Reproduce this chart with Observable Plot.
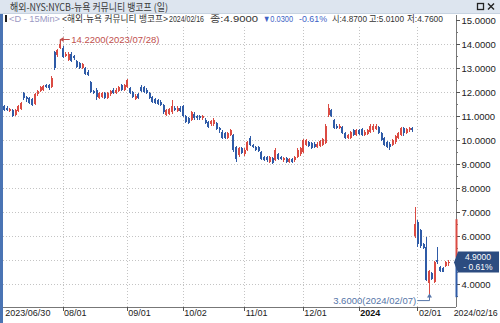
<!DOCTYPE html>
<html><head><meta charset="utf-8">
<script src="https://cdn.jsdelivr.net/npm/d3@7"></script>
<script src="https://cdn.jsdelivr.net/npm/@observablehq/plot@0.6"></script>
<style>
html,body{margin:0;padding:0;background:#fff;}
#chart{width:500px;height:323px;overflow:hidden;}
</style></head><body><div id="chart"></div>
<script>
// ---- data (daily candles, 2023/06/30 .. 2024/02/16) ----
const openP = [
 11.40,11.35,11.20,11.25,11.05,11.20,11.30,11.95,11.80,11.75,
 11.70,11.50,11.90,12.05,12.10,12.30,12.30,12.20,13.67,13.55,
 13.85,13.83,13.50,13.35,13.60,13.50,13.28,13.20,13.00,13.00,
 12.85,12.40,12.05,12.10,11.75,11.80,11.95,11.75,11.90,12.10,
 11.95,12.05,12.30,12.10,12.20,12.15,12.00,11.70,11.90,12.20,
 12.20,12.10,11.95,11.80,11.70,11.65,11.60,11.45,11.05,11.10,
 11.15,11.35,11.20,11.35,11.40,11.00,10.90,10.85,11.10,11.00,
 11.00,10.90,10.85,10.75,10.65,10.65,10.70,10.50,10.35,10.30,
 10.10,10.20,10.20,9.70,9.37,9.67,9.40,9.60,10.08,9.80,
 9.70,9.70,9.50,9.30,9.30,9.10,9.25,9.17,9.40,9.30,
 9.15,9.25,9.10,9.20,9.15,9.30,9.40,9.50,9.80,9.90,
 9.87,9.85,9.70,9.75,9.80,9.87,11.04,11.25,10.83,10.60,
 10.50,10.55,10.30,10.10,10.10,10.40,10.20,10.40,10.45,10.20,
 10.25,10.33,10.40,10.45,10.55,10.30,10.08,9.90,9.85,9.80,
 9.90,10.10,10.20,10.50,10.30,10.40,10.50,6.00,6.58,6.25,
 5.65,5.54,4.05,4.45,4.10,5.00,4.70,4.65,4.75,4.87];
const highP = [
 11.45,11.40,11.35,11.30,11.30,11.45,11.60,12.00,11.85,11.80,
 11.75,11.95,12.10,12.25,12.30,12.35,12.35,12.65,13.72,13.80,
 14.22,13.90,13.65,13.65,13.65,13.55,13.32,13.25,13.20,13.05,
 12.90,12.45,12.10,12.15,12.00,12.00,12.00,12.00,12.10,12.15,
 12.15,12.25,12.35,12.35,12.55,12.20,12.05,11.90,11.95,12.30,
 12.25,12.15,12.00,11.85,11.75,11.70,11.65,11.50,11.30,11.35,
 11.67,11.40,11.40,11.40,11.45,11.05,10.95,11.20,11.15,11.05,
 11.05,11.05,10.90,10.80,10.85,10.90,10.75,10.55,10.40,10.35,
 10.35,10.45,10.25,9.75,9.70,9.72,9.65,9.95,10.15,9.85,
 9.75,9.75,9.55,9.35,9.35,9.35,9.30,9.65,9.45,9.35,
 9.30,9.30,9.25,9.25,9.35,9.65,9.72,10.05,10.05,9.95,
 9.92,9.90,9.90,10.00,10.10,10.65,11.50,11.30,10.88,10.65,
 10.65,10.60,10.35,10.25,10.38,10.45,10.45,10.45,10.50,10.40,
 10.45,10.65,10.65,10.65,10.60,10.35,10.12,9.95,9.90,10.05,
 10.20,10.35,10.55,10.55,10.50,10.55,10.55,7.20,6.65,6.30,
 5.70,5.95,4.60,4.50,4.95,5.55,4.75,4.72,4.96,5.01];
const lowP = [
 11.20,11.20,11.15,10.96,11.00,11.15,11.25,11.65,11.60,11.50,
 11.40,11.45,11.85,12.00,12.05,12.15,12.10,12.15,12.90,13.45,
 13.80,13.40,13.45,13.30,13.25,13.35,13.00,12.95,12.95,12.70,
 12.65,11.95,11.90,11.67,11.70,11.75,11.70,11.70,11.85,11.90,
 11.90,12.00,12.05,12.05,12.15,11.90,11.75,11.65,11.70,12.00,
 11.95,11.90,11.70,11.55,11.50,11.45,11.40,11.10,11.00,11.05,
 11.10,11.20,11.15,11.15,10.95,10.70,10.65,10.80,10.85,10.85,
 10.85,10.85,10.65,10.50,10.60,10.60,10.40,10.30,10.05,10.05,
 10.05,10.15,9.50,9.10,9.30,9.40,9.35,9.55,9.75,9.65,
 9.55,9.50,9.15,9.12,9.10,9.05,8.98,9.12,9.15,9.15,
 9.10,9.05,9.05,9.05,9.10,9.25,9.35,9.45,9.75,9.70,
 9.62,9.65,9.65,9.70,9.75,9.82,10.95,10.95,10.45,10.45,
 10.45,10.25,10.05,10.05,10.05,10.15,10.15,10.20,10.15,10.15,
 10.20,10.30,10.35,10.40,10.25,9.95,9.75,9.65,9.60,9.75,
 9.85,10.05,10.15,10.15,10.25,10.35,10.35,5.90,5.55,5.50,
 5.45,4.12,3.60,4.15,4.05,4.85,4.50,4.48,4.70,4.76];
const closeP = [
 11.25,11.25,11.30,11.02,11.25,11.40,11.55,11.75,11.70,11.55,
 11.45,11.90,12.05,12.20,12.25,12.20,12.15,12.60,13.00,13.75,
 14.00,13.46,13.60,13.60,13.30,13.40,13.05,13.00,13.15,12.75,
 12.70,12.00,11.95,11.80,11.95,11.95,11.75,11.95,12.05,11.95,
 12.10,12.20,12.10,12.30,12.50,11.95,11.80,11.85,11.75,12.05,
 12.00,11.95,11.75,11.60,11.55,11.50,11.45,11.15,11.25,11.30,
 11.40,11.25,11.35,11.20,11.00,10.75,10.70,11.15,10.90,10.90,
 10.90,11.00,10.70,10.55,10.80,10.85,10.45,10.40,10.10,10.08,
 10.30,10.40,9.60,9.20,9.67,9.45,9.60,9.90,9.80,9.70,
 9.60,9.55,9.20,9.17,9.15,9.30,9.05,9.60,9.20,9.20,
 9.25,9.10,9.20,9.10,9.30,9.60,9.67,10.00,10.00,9.75,
 9.67,9.70,9.85,9.95,10.05,10.60,11.33,11.00,10.50,10.50,
 10.60,10.30,10.10,10.20,10.33,10.20,10.40,10.25,10.20,10.35,
 10.40,10.60,10.60,10.60,10.30,10.00,9.80,9.70,9.70,10.00,
 10.15,10.30,10.50,10.30,10.45,10.50,10.40,6.50,5.65,5.60,
 5.50,4.17,4.55,4.20,4.90,4.90,4.55,4.52,4.93,4.90];

const tickIdx    = [0, 21, 44, 64, 86, 107, 127, 148];
const tickLabels = ["2023/06/30","08/01","09/01","10/02","11/01","12/01","2024","02/01"];
const yearLabel  = "2024";
const lastDate   = "2024/02/16";
const yTicks     = [4,5,6,7,8,9,10,11,12,13,14,15];
const yMinor     = [3.5,4.5,5.5,6.5,7.5,8.5,9.5,10.5,11.5,12.5,13.5,14.5];
const peakDate   = "2023/07/28";
const lowDate    = "2024/02/07";
const lastChange = "- 0.61%";
const axisUpBand   = [5.1, 6.7];
const axisDownBand = [3.45, 4.85];
const titleText = "해외-NYS:NYCB-뉴욕 커뮤니티 뱅코프 (일)";
const infoSegs = [
  ["<D - 15Min>", 9, 51, "#9c9ac4", 9],
  ["<해외-뉴욕 커뮤니티 뱅코프>", 62, 106, "#333", 9],
  ["2024/02/16", 169, 35, "#333", 9],
  ["종:4.9000", 210, 48, "#333", 9.5],
  ["▼0.0300", 263, 30, "#3d63c6", 9],
  ["-0.61%", 299, 28, "#3d63c6", 9],
  ["시:4.8700", 332, 35, "#333", 9],
  ["고:5.0100", 369, 35, "#333", 9],
  ["저:4.7600", 407, 36, "#333", 9]
];

const RED = "#db4b43", BLUE = "#2f5ba7";
const candles = openP.map((o, i) => ({i, o, h: highP[i], l: lowP[i], c: closeP[i]}));
const xTicks = tickIdx.map((i, k) => ({i, label: tickLabels[k]}));
const peak = candles.reduce((a, b) => (b.h > a.h ? b : a));
const low = candles.reduce((a, b) => (b.l < a.l ? b : a));
const last = candles[candles.length - 1];
const yLabelTicks = yTicks.filter(v => Math.abs(v - last.c) > 0.5); // the last-price box hides nearby labels

const W = 500, H = 323, mL = 3, mR = 44, mT = 15, mB = 16;
const xDomain = [-0.3, 161.8];
const yDomain = [3.0417, 15.2083];

function decor(index, scales, values, dim) {
  const x = scales.x, y = scales.y;
  const xr = dim.width - dim.marginRight, yb = dim.height - dim.marginBottom;
  const g = d3.create("svg:g").attr("text-anchor", "start");
  for (const v of yTicks) {
    const yy = Math.round(y(v)) + 0.5;
    g.append("line").attr("x1", xr).attr("x2", xr + 4).attr("y1", yy).attr("y2", yy).attr("stroke", "#555");
  }
  for (const v of yMinor) {
    const yy = Math.round(y(v)) + 0.5;
    g.append("line").attr("x1", xr).attr("x2", xr + 2).attr("y1", yy).attr("y2", yy).attr("stroke", "#777");
  }
  for (const i of tickIdx.slice(1)) {
    const xx = Math.round(x(i)) + 0.5;
    g.append("line").attr("x1", xx).attr("x2", xx).attr("y1", yb).attr("y2", yb + 4).attr("stroke", "#555");
  }
  g.append("line").attr("x1", xr + 0.5).attr("x2", xr + 0.5).attr("y1", y(axisUpBand[1])).attr("y2", y(axisUpBand[0]))
    .attr("stroke", RED).attr("stroke-width", 2);
  g.append("line").attr("x1", xr + 0.5).attr("x2", xr + 0.5).attr("y1", y(axisDownBand[1])).attr("y2", y(axisDownBand[0]))
    .attr("stroke", BLUE).attr("stroke-width", 2);
  const py = y(last.c);
  g.append("path").attr("d", `M${xr - 2},${py} L${xr + 2},${py - 11} L${W - 1},${py - 11} L${W - 1},${py + 10} L${xr + 2},${py + 10} Z`)
    .attr("fill", "#2c4c80");
  g.append("text").attr("x", 478).attr("y", py - 2.5).attr("text-anchor", "middle").attr("fill", "#fff")
    .attr("font-size", 8.5).text(last.c.toFixed(4));
  g.append("text").attr("x", 478).attr("y", py + 8).attr("text-anchor", "middle").attr("fill", "#fff")
    .attr("font-size", 8.5).text(lastChange);
  const px = x(peak.i), pyy = Math.round(y(peak.h)) + 0.5;
  g.append("line").attr("x1", px + 1).attr("x2", px + 10).attr("y1", pyy).attr("y2", pyy).attr("stroke", "#c0504d");
  g.append("path").attr("d", `M${px},${pyy} L${px + 4},${pyy - 2.5} L${px + 4},${pyy + 2.5} Z`).attr("fill", "#c0504d");
  g.append("line").attr("x1", px + 0.5).attr("x2", px + 0.5).attr("y1", pyy).attr("y2", pyy + 5).attr("stroke", "#c0504d");
  const lx = Math.round(x(low.i)) + 0.5, ly = y(low.l);
  g.append("path").attr("d", `M${lx - 12},${ly + 7} L${lx},${ly + 7} L${lx},${ly + 2}`).attr("fill", "none").attr("stroke", "#5575a8");
  g.append("path").attr("d", `M${lx},${ly} L${lx - 2.5},${ly + 4} L${lx + 2.5},${ly + 4} Z`).attr("fill", "#5575a8");
  return g.node();
}

function header(index, scales, values, dim) {
  const g = d3.create("svg:g").attr("text-anchor", "start");
  g.append("rect").attr("x", 0).attr("y", 0).attr("width", W).attr("height", 14).attr("fill", "#dde5ef");
  g.append("rect").attr("x", 0).attr("y", 13).attr("width", W).attr("height", 1).attr("fill", "#c7d3e1");
  g.append("rect").attr("x", 0).attr("y", 14).attr("width", 3).attr("height", H - 14).attr("fill", "#4a74b4");
  g.append("rect").attr("x", 3).attr("y", 14).attr("width", 452).attr("height", 11).attr("fill", "#fff");
  g.append("text").attr("class", "fit").attr("data-len", 158).attr("x", 10).attr("y", 10.5).attr("text-anchor", "start")
    .attr("font-family", "'Noto Sans CJK KR', sans-serif").attr("font-size", 10).attr("fill", "#3a3a3a").text(titleText);
  g.append("rect").attr("x", 477.5).attr("y", 3.5).attr("width", 6).attr("height", 6).attr("fill", "none").attr("stroke", "#222").attr("stroke-width", 1.3);
  g.append("path").attr("d", "M488,3.5 L494,9.5 M494,3.5 L488,9.5").attr("stroke", "#222").attr("stroke-width", 1.4);
  g.append("rect").attr("x", 5).attr("y", 15).attr("width", 2).attr("height", 7).attr("fill", "#222");
  for (const [t, x0, len, col, fs] of infoSegs) {
    g.append("text").attr("class", "fit").attr("data-len", len).attr("x", x0).attr("y", 22).attr("text-anchor", "start")
      .attr("font-family", "'Liberation Sans', 'Noto Sans CJK KR', sans-serif")
      .attr("font-size", fs).attr("fill", col).text(t);
  }
  return g.node();
}

const chart = Plot.plot({
  width: W, height: H,
  marginLeft: mL, marginRight: mR, marginTop: mT, marginBottom: mB,
  style: {fontFamily: "'Liberation Sans', 'DejaVu Sans', sans-serif", background: "#fff", overflow: "hidden"},
  x: {domain: xDomain, axis: null},
  y: {domain: yDomain, axis: null},
  color: {type: "identity"},
  marks: [
    Plot.ruleY(yTicks, {stroke: "#c4c4c4", strokeDasharray: "1,2", shapeRendering: "crispEdges"}),
    Plot.ruleX(tickIdx.slice(1), {stroke: "#c4c4c4", strokeDasharray: "1,2", shapeRendering: "crispEdges"}),
    Plot.ruleX(candles, {x: "i", y1: "l", y2: "h", stroke: d => (d.c >= d.o ? RED : BLUE), strokeWidth: 1, shapeRendering: "crispEdges"}),
    Plot.ruleX(candles, {x: "i", y1: "o", y2: "c", stroke: d => (d.c >= d.o ? RED : BLUE), strokeWidth: 2, shapeRendering: "crispEdges"}),
    Plot.ruleY([yDomain[0]], {stroke: "#777", shapeRendering: "crispEdges"}),
    Plot.ruleX([xDomain[1]], {stroke: "#777", shapeRendering: "crispEdges"}),
    Plot.text(yLabelTicks, {y: d => d, text: d => d.toFixed(4), frameAnchor: "right", dx: 5, textAnchor: "start", fontSize: 9.5, fill: "#222"}),
    Plot.text(xTicks.filter(d => d.label !== yearLabel), {x: "i", text: "label", frameAnchor: "bottom", dy: 8.5, dx: 1, textAnchor: "start", fontSize: 9, fill: "#222"}),
    Plot.text(xTicks.filter(d => d.label === yearLabel), {x: "i", text: "label", frameAnchor: "bottom", dy: 8.5, dx: 1, textAnchor: "start", fontSize: 9, fontWeight: "bold", fill: "#111"}),
    Plot.text([{i: last.i, label: lastDate}], {x: "i", text: "label", frameAnchor: "bottom", dy: 8.5, dx: 5, textAnchor: "start", fontSize: 8.8, fill: "#222"}),
    Plot.text([peak], {x: "i", y: "h", text: d => `${d.h.toFixed(4)}(${peakDate})`, dx: 11, dy: 1, textAnchor: "start", fontSize: 9.5, fill: "#c0504d"}),
    Plot.text([low], {x: "i", y: "l", text: d => `${d.l.toFixed(4)}(${lowDate})`, dx: -13, dy: 7, textAnchor: "end", fontSize: 9.5, fill: "#5575a8"}),
    decor,
    header
  ]
});
document.getElementById("chart").appendChild(chart);
// fit header texts to their measured widths
d3.select(chart).selectAll("text.fit").each(function () {
  const target = +this.getAttribute("data-len");
  this.setAttribute("textLength", target);
  this.setAttribute("lengthAdjust", "spacingAndGlyphs");
});
</script></body></html>
